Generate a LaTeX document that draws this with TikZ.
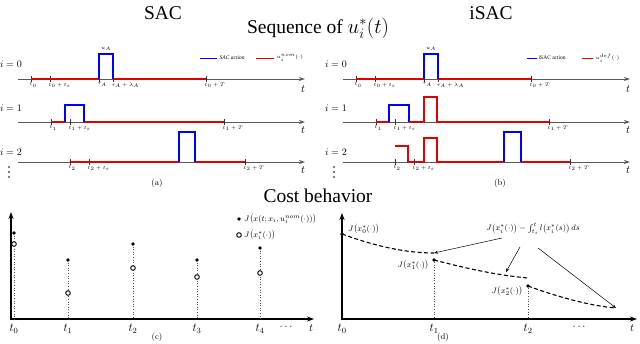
\documentclass[tikz,border=0pt]{standalone}
\usepackage{amsmath,amssymb}
\usepackage{fontspec}
\newfontfamily\titlefont{Liberation Serif}
\usepackage{tikz}
\usetikzlibrary{arrows.meta, positioning, calc}

\begin{document}
\begin{tikzpicture}[
    x=1pt, y=-1pt,
    title/.style={font=\titlefont\fontsize{19.5}{21}\selectfont, inner sep=0pt},
    axis/.style={draw=black!65, line width=1pt, -{Stealth[length=6pt, width=4pt]}},
    baxis/.style={draw=black, line width=1.1pt, {Stealth[length=7pt, width=5pt]}-{Stealth[length=7pt, width=5pt]}},
    tickmark/.style={draw=black!80, line width=0.6pt},
    ticklabel/.style={font=\fontsize{5.5}{6}\selectfont, anchor=north west, inner sep=0.5pt},
    rowlabel/.style={font=\fontsize{10}{12}\selectfont, anchor=east, inner sep=0pt},
    tlabel/.style={font=\fontsize{11}{12}\selectfont, inner sep=0pt},
    caption/.style={font=\fontsize{8.5}{10}\selectfont, inner sep=0pt},
    legend/.style={font=\fontsize{5.5}{6}\selectfont, anchor=west, inner sep=0.5pt},
    nomline/.style={draw=red!90!black, line width=1.2pt},
    actline/.style={draw=blue, line width=1.2pt},
    full/.style={circle, fill=black, inner sep=0pt, minimum size=3.8pt},
    hollow/.style={circle, draw=black, line width=0.9pt, fill=white, inner sep=0pt, minimum size=4.6pt},
    vdot/.style={circle, fill=black, inner sep=0pt, minimum size=1.6pt},
    drop/.style={draw=black!70, dotted, line width=0.6pt},
    cost/.style={draw=black, dashed, dash pattern=on 4pt off 2.5pt, line width=1.1pt},
    note/.style={-{Stealth[length=4pt, width=3pt]}, line width=0.5pt},
    small/.style={font=\fontsize{8}{9}\selectfont, inner sep=0pt}
]
\useasboundingbox (0,0) rectangle (640,343);

% titles
\node[title] (sac) at (163,13) {SAC};
\node[title] (isac) at (491,13) {iSAC};
\node[title] (seq) at (318,28) {Sequence of $u_i^*(t)$};
\node[title] (costb) at (318,196) {Cost behavior};

% the three time axes of panels (a) and (b)
\foreach \dx/\p in {0/a, 325/b} {
  \begin{scope}[xshift=\dx pt]
    \coordinate (\p0s) at (18,79);  \coordinate (\p0e) at (305,79);
    \coordinate (\p1s) at (18,122); \coordinate (\p1e) at (305,122);
    \coordinate (\p2s) at (18,162); \coordinate (\p2e) at (305,162);
    \draw[axis] (\p0s) -- (\p0e);
    \draw[axis] (\p1s) -- (\p1e);
    \draw[axis] (\p2s) -- (\p2e);
    \node[tlabel] (\p0t) at (303,89) {$t$};
    \node[tlabel] (\p1t) at (303,130) {$t$};
    \node[tlabel] (\p2t) at (303,170) {$t$};
    \node[rowlabel] (\p0i) at (22,64) {$i=0$};
    \node[rowlabel] (\p1i) at (22,108) {$i=1$};
    \node[rowlabel] (\p2i) at (22,152) {$i=2$};
    \foreach \y [count=\k] in {167,172,177} {
      \node[vdot] (\p v\k) at (9,\y) {};
    }
    \foreach \x/\lab [count=\k] in {31/t_0, 50/t_0+t_s, 99/\tau_A, 113/\tau_A+\lambda_A, 206/t_0+T} {
      \draw[tickmark] (\x,76) -- (\x,82);
      \node[ticklabel] (\p0k\k) at (\x-2,82) {$\lab$};
    }
    \foreach \x/\lab [count=\k] in {51/t_1, 70/t_1+t_s, 224/t_1+T} {
      \draw[tickmark] (\x,119) -- (\x,125);
      \node[ticklabel] (\p1k\k) at (\x-2,125) {$\lab$};
    }
    \foreach \x/\lab [count=\k] in {70/t_2, 89/t_2+t_s, 245/t_2+T} {
      \draw[tickmark] (\x,159) -- (\x,165);
      \node[ticklabel] (\p2k\k) at (\x-2,165) {$\lab$};
    }
  \end{scope}
}

% panel (a): SAC
\draw[nomline] (31,79) -- (99,79);
\draw[nomline] (113,79) -- (206,79);
\draw[actline] (99,79) |- (113,54) -- (113,79);
\node[font=\fontsize{5.5}{6}\selectfont, inner sep=0pt] (ua) at (106,49) {$u_A$};
\draw[nomline] (51,122) -- (65,122);
\draw[nomline] (84,122) -- (224,122);
\draw[actline] (65,122) |- (84,105) -- (84,122);
\draw[nomline] (70,162) -- (179,162);
\draw[nomline] (195,162) -- (245,162);
\draw[actline] (179,162) |- (195,132) -- (195,162);
\draw[actline, line width=1pt] (200,58) -- (217,58);
\node[legend] (sacleg) at (219,58) {\titlefont\itshape SAC action};
\draw[nomline, line width=1pt] (256,58) -- (274,58);
\node[legend] (nomleg) at (276,58) {$u_i^{nom}(\cdot)$};
\node[caption] (capa) at (157,183) {(a)};

% panel (b): iSAC
\draw[nomline] (356,79) -- (424,79);
\draw[nomline] (438,79) -- (531,79);
\draw[actline] (424,79) |- (438,54) -- (438,79);
\node[font=\fontsize{5.5}{6}\selectfont, inner sep=0pt] (ub) at (431,49) {$u_A$};
\draw[nomline] (376,122) -- (389,122);
\draw[actline] (389,122) |- (409,105) -- (409,122);
\draw[nomline] (409,122) -- (424,122) |- (437,97) -- (437,122) -- (549,122);
\draw[nomline] (395,146) -- (408,146) -- (408,162) -- (424,162) |- (437,138) -- (437,162) -- (504,162);
\draw[actline] (504,162) |- (521,132) -- (521,162);
\draw[nomline] (521,162) -- (570,162);
\draw[actline, line width=1pt] (527,58) -- (537,58);
\node[legend] (isacleg) at (538,58) {\titlefont iSAC action};
\draw[nomline, line width=1pt] (582,58) -- (593,58);
\node[legend] (defleg) at (595,58) {$u_i^{def}(\cdot)$};
\node[caption] (capb) at (500,183) {(b)};

% panel (c): cost at each sample
\coordinate (cy) at (11,212);
\coordinate (co) at (11,319);
\coordinate (cx) at (314,319);
\draw[baxis] (cy) -- (co) -- (cx);
\foreach \x/\f/\o [count=\k] in {14/233/244, 68/260/293, 133/244/268, 197/260/277, 260/248/273} {
  \draw[drop] (\x,\f) -- (\x,319);
  \node[full] (cf\k) at (\x,\f) {};
  \node[hollow] (ch\k) at (\x,\o) {};
  \pgfmathtruncatemacro{\j}{\k-1}
  \node[tlabel, font=\fontsize{12}{13}\selectfont] (ct\k) at (\x,329) {$t_{\j}$};
}
\node[tlabel] (cdots) at (287,327) {$\cdots$};
\node[tlabel] (ct) at (311,328) {$t$};
\node[full] (legf) at (239,219) {};
\node[small, anchor=west] (legft) at (244,219) {$J\bigl(x(t;x_i,u_i^{nom}(\cdot))\bigr)$};
\node[hollow] (legh) at (239,235) {};
\node[small, anchor=west] (leght) at (244,235) {$J\bigl(x_i^*(\cdot)\bigr)$};
\node[caption] (capc) at (157,337) {(c)};

% panel (d): cost along the horizon
\coordinate (dy) at (342,213);
\coordinate (do) at (342,319);
\coordinate (dx) at (637,319);
\draw[baxis] (dy) -- (do) -- (dx);
\node[full] (d0) at (342,234) {};
\node[full] (d1) at (434,260) {};
\node[full] (d2) at (528,286) {};
\coordinate (e0) at (434,253);
\coordinate (e1) at (528,278);
\coordinate (e2) at (616,308);
\draw[cost] (d0.center) .. controls (375,246) and (405,253) .. (e0);
\draw[cost] (d1.center) .. controls (465,268) and (495,275) .. (e1);
\draw[cost] (d2.center) .. controls (555,296) and (590,306) .. (e2);
\draw[drop] (d1) -- (434,319);
\draw[drop] (d2) -- (528,319);
\node[small, anchor=west] (j0) at (348,229) {$J\bigl(x_0^*(\cdot)\bigr)$};
\node[small, anchor=east] (j1) at (429,265) {$J\bigl(x_1^*(\cdot)\bigr)$};
\node[small, anchor=east] (j2) at (523,291) {$J\bigl(x_2^*(\cdot)\bigr)$};
\node[small] (rest) at (533,229) {$J\bigl(x_i^*(\cdot)\bigr)-\int_{t_i}^{t} l\bigl(x_i^*(s)\bigr)\,ds$};
\coordinate (r1) at (502,238);
\coordinate (r2) at (520,247);
\coordinate (r3) at (538,248);
\coordinate (m1) at (506,272);
\draw[note] (r1) -- (e0);
\draw[note] (r2) -- (m1);
\draw[note] (r3) -- (e2);
\foreach \x/\lab in {342/t_0, 434/t_1, 528/t_2} {
  \node[tlabel, font=\fontsize{12}{13}\selectfont] (dt\x) at (\x,329) {$\lab$};
}
\node[tlabel] (ddots) at (580,327) {$\cdots$};
\node[tlabel] (dt) at (632,328) {$t$};
\node[caption] (capd) at (443,337) {(d)};

\end{tikzpicture}
\end{document}
